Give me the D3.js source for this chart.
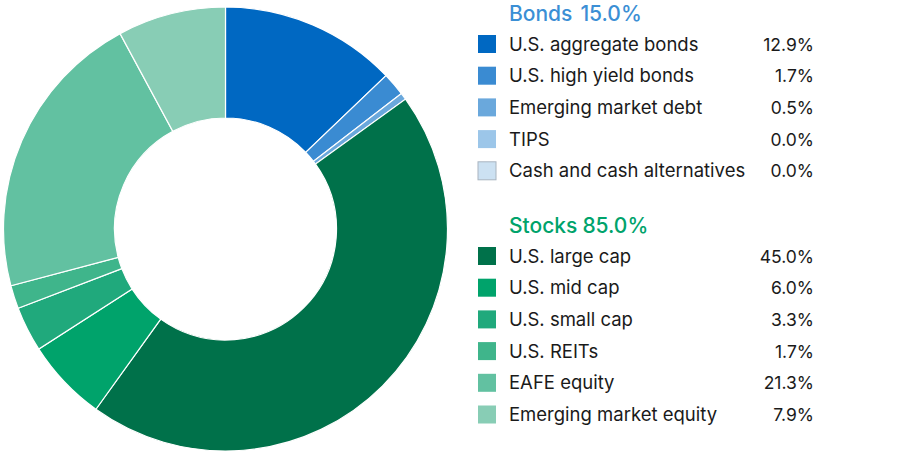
<!DOCTYPE html>
<html>
<head>
<meta charset="utf-8">
<script src="https://cdn.jsdelivr.net/npm/d3@7"></script>
<style>
  html, body { margin: 0; padding: 0; background: #fff; }
  svg { display: block; font-family: Inter, "Noto Sans", sans-serif; }
</style>
</head>
<body>
<svg id="chart" width="900" height="455"></svg>
<script>
// groups and their slices, in drawing order (clockwise from 12 o'clock)
const groupNames = ["Bonds", "Stocks"];
const groupTotals = [15.0, 85.0];

const bondLabels = ["U.S. aggregate bonds", "U.S. high yield bonds", "Emerging market debt", "TIPS", "Cash and cash alternatives"];
const bondValues = [12.9, 1.7, 0.5, 0.0, 0.0];
const bondColors = ["#0068c2", "#3a8bd2", "#6aa8dc", "#9cc6e9", "#cce1f2"];

const stockLabels = ["U.S. large cap", "U.S. mid cap", "U.S. small cap", "U.S. REITs", "EAFE equity", "Emerging market equity"];
const stockValues = [45.0, 6.0, 3.3, 1.7, 21.3, 7.9];
const stockColors = ["#00714a", "#00a36b", "#20a97c", "#3fb58b", "#62c1a1", "#88cdb5"];

const headColors = ["#3b8fd5", "#00a36b"];

const slices = [];
bondLabels.forEach((l, i) => slices.push({ label: l, value: bondValues[i], color: bondColors[i], group: 0 }));
stockLabels.forEach((l, i) => slices.push({ label: l, value: stockValues[i], color: stockColors[i], group: 1 }));

const svg = d3.select("#chart");

// donut
const cx = 225.5, cy = 229, rOuter = 222, rInner = 111;
const pie = d3.pie().sort(null).value(d => d.value);
const arc = d3.arc().innerRadius(rInner).outerRadius(rOuter);

svg.append("g")
    .attr("transform", `translate(${cx},${cy})`)
  .selectAll("path")
  .data(pie(slices).filter(d => d.data.value > 0))
  .join("path")
    .attr("d", arc)
    .attr("fill", d => d.data.color)
    .attr("stroke", "#fff")
    .attr("stroke-width", 1.2);

// legend
const fmt = d3.format(".1f");
const legX = 478, textX = 509, valX = 814;
const rowStep = 31.7;
const groupTop = [0, 212];

const leg = svg.append("g");

[0, 1].forEach(g => {
  const y0 = groupTop[g];
  const head = leg.append("text")
      .attr("x", textX)
      .attr("y", y0 + 21)
      .attr("fill", headColors[g])
      .attr("font-size", 21)
      .attr("font-weight", 500);
  head.append("tspan").text(groupNames[g]);
  head.append("tspan").attr("dx", g === 0 ? 8 : 5).text(fmt(groupTotals[g]) + "%");

  const rows = slices.filter(d => d.group === g);
  const row = leg.selectAll(null)
    .data(rows)
    .join("g")
      .attr("transform", (d, i) => `translate(0,${y0 + 44 + i * rowStep})`);

  row.append("rect")
      .attr("x", legX)
      .attr("y", -9)
      .attr("width", 18)
      .attr("height", 18)
      .attr("fill", d => d.color)
      .attr("stroke", d => d.label === "Cash and cash alternatives" ? "#a9b4bf" : "none")
      .attr("stroke-width", 1);

  row.append("text")
      .attr("x", textX)
      .attr("y", 6.5)
      .attr("font-size", 18.5)
      .attr("fill", "#1a1a1a")
      .text(d => d.label);

  row.append("text")
      .attr("x", valX)
      .attr("y", 6.5)
      .attr("text-anchor", "end")
      .attr("font-size", 17.5)
      .attr("fill", "#1a1a1a")
      .text(d => fmt(d.value) + "%");
});
</script>
</body>
</html>
